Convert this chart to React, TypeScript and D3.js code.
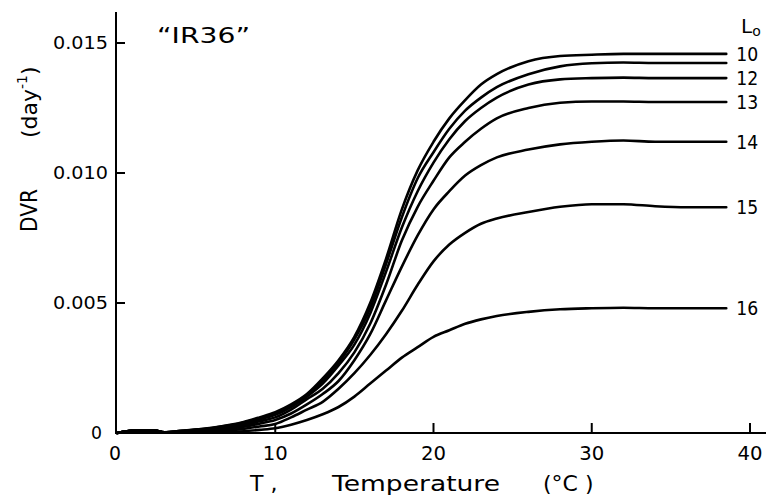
import * as d3 from "d3";

const temps = [0, 1.3, 2.3, 3, 4, 6, 8, 9, 10, 11, 12, 13, 14, 15, 16, 17, 18, 19, 20, 21, 22, 23, 24, 26, 28, 30, 32, 34, 36, 38.5];

const dvr10 = [0, 0.0001, 0.0001, 0.00003, 0.00008, 0.0002, 0.00042, 0.0006, 0.0008, 0.0011, 0.0015, 0.0021, 0.0028, 0.0037, 0.005, 0.0067, 0.0086, 0.0101, 0.0112, 0.0121, 0.0128, 0.0134, 0.0138, 0.0143, 0.0145, 0.01455, 0.01458, 0.01458, 0.01458, 0.01458];
const dvr11 = [0, 0.0001, 0.0001, 0.00003, 0.00008, 0.00019, 0.0004, 0.00057, 0.00076, 0.00105, 0.00145, 0.002, 0.0027, 0.0036, 0.0048, 0.0065, 0.0083, 0.0098, 0.0108, 0.0117, 0.0124, 0.0129, 0.0133, 0.0138, 0.0141, 0.01422, 0.01425, 0.01423, 0.01423, 0.01423];
const dvr12 = [0, 0.0001, 0.0001, 0.00003, 0.00007, 0.00017, 0.00036, 0.00052, 0.0007, 0.001, 0.0014, 0.0019, 0.0026, 0.0034, 0.0046, 0.0062, 0.0079, 0.0093, 0.0104, 0.0113, 0.012, 0.0125, 0.0129, 0.0134, 0.0136, 0.01365, 0.01367, 0.01365, 0.01365, 0.01365];
const dvr13 = [0, 0.0001, 0.0001, 0.00003, 0.00006, 0.00015, 0.0003, 0.00045, 0.0006, 0.0009, 0.0013, 0.0017, 0.0023, 0.0031, 0.0042, 0.0057, 0.0074, 0.0087, 0.0097, 0.0106, 0.0112, 0.0117, 0.0121, 0.0125, 0.0127, 0.01275, 0.01275, 0.01273, 0.01273, 0.01273];
const dvr14 = [0, 0.0001, 0.0001, 0.00002, 0.00005, 0.00012, 0.00024, 0.00036, 0.0005, 0.00075, 0.0011, 0.0015, 0.002, 0.0028, 0.0038, 0.0051, 0.0064, 0.0076, 0.0086, 0.0093, 0.0099, 0.0103, 0.0106, 0.0109, 0.0111, 0.0112, 0.01125, 0.0112, 0.0112, 0.0112];
const dvr15 = [0, 0.0001, 0.0001, 0.00002, 0.00003, 0.00008, 0.00016, 0.00025, 0.00035, 0.0006, 0.0009, 0.0012, 0.0017, 0.0023, 0.003, 0.0038, 0.0047, 0.0057, 0.0066, 0.00725, 0.0077, 0.00805, 0.00825, 0.0085, 0.0087, 0.0088, 0.0088, 0.00872, 0.00868, 0.00868];
const dvr16 = [0, 0.0001, 0.0001, 0.00001, 0.00001, 0.00003, 0.00007, 0.00012, 0.00018, 0.00032, 0.0005, 0.00072, 0.001, 0.0014, 0.0019, 0.0024, 0.0029, 0.0033, 0.0037, 0.00395, 0.0042, 0.00437, 0.0045, 0.00466, 0.00476, 0.0048, 0.00482, 0.0048, 0.0048, 0.0048];

const series = [dvr10, dvr11, dvr12, dvr13, dvr14, dvr15, dvr16];
const seriesLabels = ["10", "", "12", "13", "14", "15", "16"];

const xTickValues = [0, 10, 20, 30, 40];
const yTickValues = [0, 0.005, 0.01, 0.015];
const yTickLabels = ["0", "0.005", "0.010", "0.015"];

export default function App() {
  const width = 769;
  const height = 502;
  const font = "'DejaVu Sans', sans-serif";

  const xScale = d3.scaleLinear().domain([0, 40]).range([117, 750]);
  const yScale = d3.scaleLinear().domain([0, 0.015]).range([433, 43]);

  const line = d3
    .line<number>()
    .x((_, i) => xScale(temps[i]))
    .y((d) => yScale(d))
    .curve(d3.curveMonotoneX);

  const lastT = temps[temps.length - 1];

  return (
    <svg
      width={width}
      height={height}
      style={{ position: "absolute", left: 0, top: 0, display: "block", background: "#fff" }}
    >
      {/* curves */}
      {series.map((s, i) => (
        <path key={i} d={line(s) || ""} fill="none" stroke="#000" strokeWidth={2.6} strokeLinecap="round" />
      ))}

      {/* curve labels */}
      {series.map((s, i) =>
        seriesLabels[i] ? (
          <text
            key={"l" + i}
            x={xScale(lastT) + 10}
            y={yScale(s[s.length - 1])}
            dy="0.36em"
            fontFamily={font}
            fontSize={19}
            textLength={22}
            lengthAdjust="spacingAndGlyphs"
          >
            {seriesLabels[i]}
          </text>
        ) : null
      )}
      <text x={741} y={33} fontFamily={font} fontSize={20}>
        L
        <tspan fontSize={14} dy={3}>o</tspan>
      </text>

      {/* y axis */}
      <line x1={xScale(0) - 1} x2={xScale(0) - 1} y1={12} y2={yScale(0)} stroke="#000" strokeWidth={2} />
      {yTickValues.map((t, i) => (
        <g key={t} transform={`translate(${xScale(0) - 1},${yScale(t)})`}>
          {t !== 0 && <line x2={9} stroke="#000" strokeWidth={2} />}
          <text
            x={t === 0 ? -14 : -8}
            dy="0.36em"
            textAnchor="end"
            fontFamily={font}
            fontSize={18}
            textLength={t === 0 ? 11 : 55}
            lengthAdjust="spacingAndGlyphs"
          >
            {yTickLabels[i]}
          </text>
        </g>
      ))}

      {/* x axis */}
      <line x1={xScale(0) - 2} x2={766} y1={yScale(0)} y2={yScale(0)} stroke="#000" strokeWidth={2} />
      {xTickValues.map((t) => (
        <g key={t} transform={`translate(${xScale(t)},${yScale(0)})`}>
          {t !== 0 && <line y2={-10} stroke="#000" strokeWidth={2} />}
          <text
            y={27}
            x={t === 0 ? -2 : 0}
            textAnchor="middle"
            fontFamily={font}
            fontSize={19}
            textLength={t === 0 ? 12 : 25}
            lengthAdjust="spacingAndGlyphs"
          >
            {t}
          </text>
        </g>
      ))}

      {/* axis titles */}
      <text x={250} y={491} fontFamily={font} fontSize={22}>T ,</text>
      <text x={332} y={491} fontFamily={font} fontSize={22} textLength={168} lengthAdjust="spacingAndGlyphs">
        Temperature
      </text>
      <text x={543} y={491} fontFamily={font} fontSize={22}>
        (°C )
      </text>

      <g transform="translate(37,232) rotate(-90)">
        <text x={0} y={0} fontFamily={font} fontSize={23} textLength={43} lengthAdjust="spacingAndGlyphs">
          DVR
        </text>
        <text x={94} y={0} fontFamily={font} fontSize={22}>
          (day
          <tspan fontSize={14} dy={-10}>-1</tspan>
          <tspan dy={10}>)</tspan>
        </text>
      </g>

      {/* cultivar */}
      <text x={157} y={43} fontFamily={font} fontSize={21} textLength={93} lengthAdjust="spacingAndGlyphs">
        “IR36”
      </text>
    </svg>
  );
}
